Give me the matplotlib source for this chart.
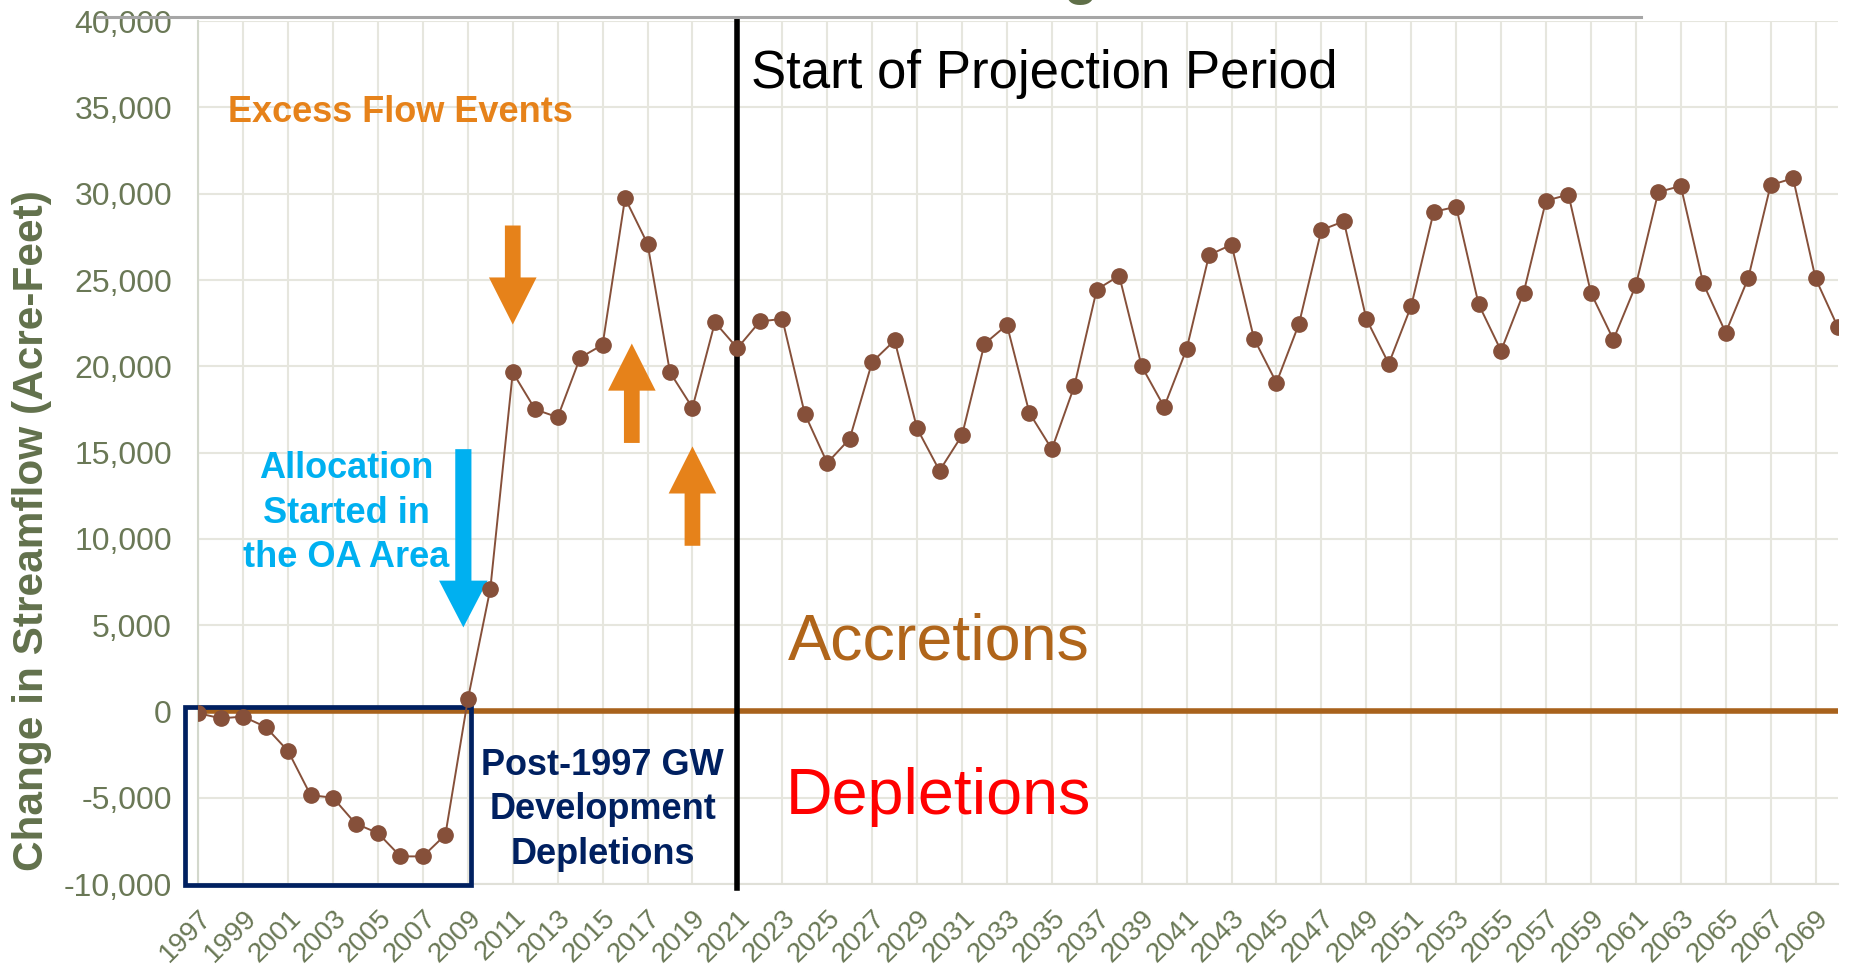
import matplotlib
matplotlib.use("Agg")
import matplotlib.pyplot as plt
import numpy as np
from matplotlib.patches import Rectangle, FancyArrow
from matplotlib.lines import Line2D

plt.rcParams['font.family'] = ['Liberation Sans', 'DejaVu Sans']

# ---- data ----
years = list(range(1997, 2071))
streamflow_change = [
    -100, -400, -300, -900, -2300, -4850, -5000, -6500, -7050, -8400,
    -8400, -7150, 700, 7100, 19650, 17500, 17050, 20500, 21250, 29750,
    27100, 19650, 17600, 22550, 21050, 22600, 22750, 17250, 14400, 15800,
    20250, 21500, 16400, 13950, 16000, 21300, 22400, 17300, 15200, 18850,
    24450, 25250, 20000, 17650, 21000, 26450, 27050, 21600, 19050, 22450,
    27900, 28400, 22750, 20150, 23500, 28950, 29250, 23600, 20900, 24250,
    29600, 29950, 24250, 21550, 24700, 30100, 30450, 24800, 21950, 25100,
    30500, 30900, 25100, 22250,
]
tick_years = list(range(1997, 2070, 2))
y_ticks = list(range(-10000, 40001, 5000))

projection_start = 2021
# excess flow arrows: (year, tail value, tip value)
excess_flow_arrows = [(2011, 28160, 22420), (2016.3, 15560, 21320), (2019, 9600, 15360)]
allocation_arrow = (2008.8, 15200, 4870)

# ---- colours ----
axis_text = '#6A7856'
label_green = '#62714C'
line_brown = '#86503A'
zero_brown = '#A8621C'
orange = '#E6821A'
blue = '#00B0F0'
navy = '#002060'
grid_col = '#E6E6DE'

fig = plt.figure(figsize=(18.51, 9.76), dpi=100)
ax = fig.add_axes([0.10713, 0.09426, 0.88585, 0.88402])

ax.set_xlim(1997, 2070)
ax.set_ylim(-10000, 40000)
ax.set_xticks(tick_years)
ax.set_xticklabels([str(y) for y in tick_years], rotation=45, ha='right',
                   va='top', rotation_mode='anchor', fontsize=20, color=axis_text)
ax.set_yticks(y_ticks)
ax.set_yticklabels([f"{v:,}" for v in y_ticks], fontsize=23, color=axis_text)
ax.tick_params(axis='both', length=0)
ax.tick_params(axis='x', pad=15)
ax.tick_params(axis='y', pad=19)
ax.grid(True, color=grid_col, lw=1.5, zorder=0)
ax.set_axisbelow(True)
for s in ['top', 'right']:
    ax.spines[s].set_visible(False)
ax.spines['left'].set_color('#D3D8CC')
ax.spines['left'].set_linewidth(1.5)
ax.spines['bottom'].set_color('#E0E0D8')
ax.spines['bottom'].set_linewidth(1.5)

ax.text(-0.1017, 0.41, 'Change in Streamflow (Acre-Feet)', transform=ax.transAxes,
        rotation=90, ha='center', va='center', fontsize=30.5, fontweight='bold',
        color=label_green)

# zero line
ax.axhline(0, color=zero_brown, lw=4, zorder=2)

# series
ax.plot(years, streamflow_change, color=line_brown, lw=1.4, marker='o',
        markersize=11, markerfacecolor=line_brown, markeredgecolor=line_brown,
        zorder=5)

# projection start line
ax.plot([projection_start, projection_start], [40000, -10250], color='black',
        lw=4, clip_on=False, zorder=4)
ax.text(2021.6, 36100, 'Start of Projection Period', fontsize=38, color='black',
        ha='left', va='baseline')

# post-1997 depletion box
ax.add_patch(Rectangle((1996.42, -10060), 12.7, 10290, fill=False,
                       edgecolor=navy, lw=3.4, clip_on=False, zorder=4))
for txt, yb in zip(['Post-1997 GW', 'Development', 'Depletions'],
                   [-3690, -6260, -8830]):
    ax.text(2015.0, yb, txt, fontsize=26, fontweight='bold', color=navy,
            ha='center', va='baseline')

# excess flow events
ax.text(2006, 34130, 'Excess Flow Events', fontsize=26, fontweight='bold',
        color=orange, ha='center', va='baseline')
for x, y0, y1 in excess_flow_arrows:
    ax.add_patch(FancyArrow(x, y0, 0, y1 - y0, width=0.7, head_width=2.12,
                            head_length=2730, length_includes_head=True,
                            color=orange, lw=0, zorder=3))

# allocation arrow and text
ax_x, ax_y0, ax_y1 = allocation_arrow
ax.add_patch(FancyArrow(ax_x, ax_y0, 0, ax_y1 - ax_y0, width=0.72,
                        head_width=2.16, head_length=2710,
                        length_includes_head=True, color=blue, lw=0, zorder=3))
for txt, yb in zip(['Allocation', 'Started in', 'the OA Area'],
                   [13510, 10930, 8350]):
    ax.text(2003.6, yb, txt, fontsize=26, fontweight='bold', color=blue,
            ha='center', va='baseline')

# region labels
ax.text(2029.96, 3000, 'Accretions', fontsize=46.5, color='#B0651A',
        ha='center', va='baseline')
ax.text(2029.96, -5920, 'Depletions', fontsize=46.5, color='#FF0000',
        ha='center', va='baseline')

# slide remnants: top rule and the clipped title letter above it
fig.add_artist(Line2D([97 / 1851, 1641 / 1851], [1 - 16.5 / 976] * 2,
                      color='#A6A6A6', lw=2.2))
fig.text(1081 / 1851, 1 + 6.5 / 976, 'g', fontsize=40, fontweight='bold',
         color='#5F6F48', ha='center', va='baseline')

fig.savefig('out.png', dpi=100)
